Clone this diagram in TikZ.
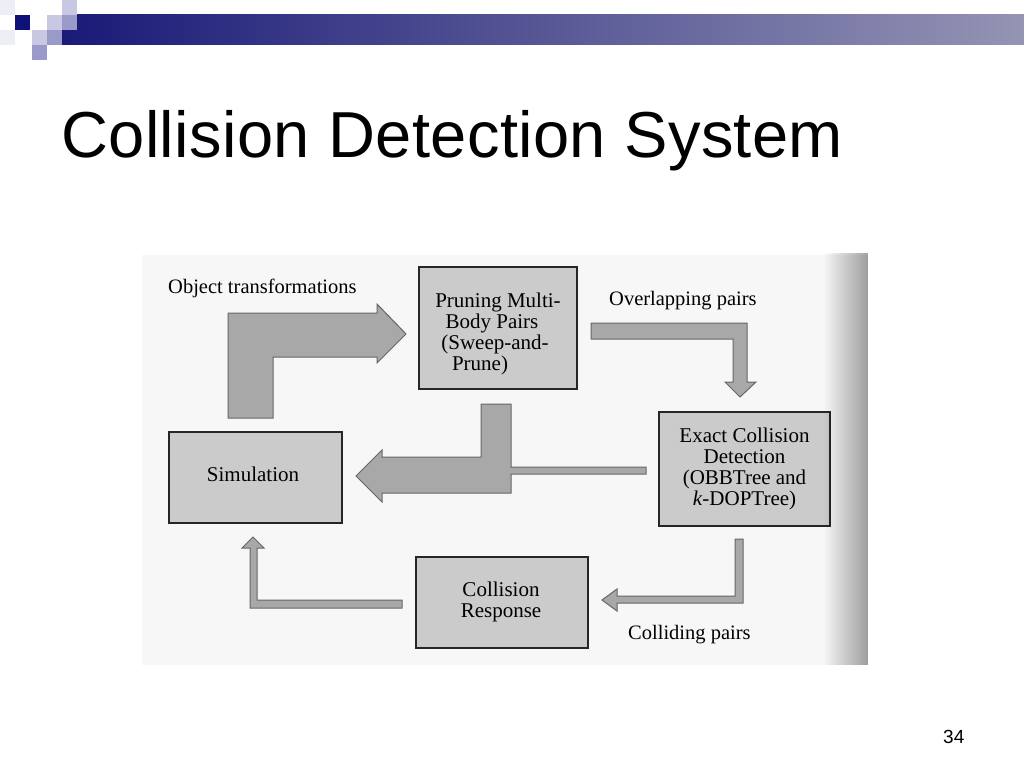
\documentclass[tikz,border=0pt]{standalone}
\usepackage{fontspec}
\setmainfont{Liberation Serif}
\newfontfamily\titlefont{Liberation Sans}
\usetikzlibrary{fadings}
\definecolor{barL}{HTML}{1A1A78}
\definecolor{barR}{HTML}{9494B4}
\definecolor{sqNavy}{HTML}{10107A}
\definecolor{sqLight}{HTML}{C8C8E2}
\definecolor{sqMid}{HTML}{9A9ACA}
\definecolor{sqFaint}{HTML}{EEEEF6}
\definecolor{scanbg}{HTML}{F7F7F7}
\definecolor{boxfill}{HTML}{CBCBCB}
\definecolor{boxedge}{HTML}{262626}
\definecolor{arrowfill}{HTML}{A8A8A8}
\definecolor{arrowedge}{HTML}{666666}
\tikzset{
  procbox/.style={draw=boxedge, fill=boxfill, line width=2.2pt, inner sep=0pt},
  boxtext/.style={align=center, font=\fontsize{21}{20.8}\selectfont, inner sep=0pt},
  blockarrow/.style={fill=arrowfill, draw=arrowedge, line width=1pt, line join=miter},
  lbl/.style={anchor=base west, inner sep=0pt, font=\fontsize{20.5}{22}\selectfont},
}
\begin{document}
\begin{tikzpicture}[x=1pt,y=-1pt]
\useasboundingbox (0,0) rectangle (1024,768);
\fill[white] (0,0) rectangle (1024,768);
% header bar and squares
\shade[left color=barL, right color=barR] (62,15) rectangle (1024,45);
\fill[sqFaint] (0,0) rectangle (15,15);
\fill[sqFaint] (0,30) rectangle (15,45);
\fill[sqLight] (62,0) rectangle (77,15);
\fill[sqNavy] (15,15) rectangle (30,30);
\fill[sqLight] (47,15) rectangle (62,30);
\fill[sqMid] (62,15) rectangle (77,30);
\fill[sqLight] (32,30) rectangle (47,45);
\fill[sqMid] (47,30) rectangle (62,45);
\fill[sqMid] (32,45) rectangle (47,60);
% title
\node[anchor=base west, inner sep=0pt, font=\titlefont\fontsize{65}{78}\selectfont\addfontfeature{LetterSpace=0.6}] (title) at (61,157) {Collision Detection System};
% scanned figure background
\fill[scanbg] (142,255) rectangle (868,665);
% boxes
\node[procbox, minimum width=158pt, minimum height=122pt] (prune) at (498,328) {};
\node[boxtext] (prunetext) at (498,334)
  {Pruning Multi-\\Body Pairs\kern12pt\\(Sweep-and-\kern6pt\\Prune)\kern36pt};
\node[procbox, minimum width=171pt, minimum height=114pt] (exact) at (744.5,469) {};
\node[boxtext] (exacttext) at (744.5,469)
  {Exact Collision\\Detection\\(OBBTree and\\\textit{k}-DOPTree)};
\node[procbox, minimum width=173pt, minimum height=91pt] (sim) at (255.5,477.5) {};
\node[boxtext] (simtext) at (253,474) {Simulation};
\node[procbox, minimum width=172pt, minimum height=91pt] (resp) at (502,602.5) {};
\node[boxtext] (resptext) at (501,602) {Collision\\Response};
% block arrows
\draw[blockarrow] (228,418) -- (228,313) -- (377,313) -- (377,304) -- (406,334) -- (377,363) -- (377,357) -- (273,357) -- (273,418) -- cycle;
\draw[blockarrow] (591,323) -- (747,323) -- (747,382) -- (756,382) -- (740,397) -- (725,382) -- (733,382) -- (733,339) -- (591,339) -- cycle;
\draw[blockarrow] (356,476) -- (382,450) -- (382,457) -- (481,457) -- (481,404) -- (511,404) -- (511,467) -- (646,467) -- (646,474) -- (511,474) -- (511,493) -- (382,493) -- (382,502) -- cycle;
\draw[blockarrow] (735,539) -- (743,539) -- (743,603) -- (617,603) -- (617,611) -- (602,600) -- (617,589) -- (617,596) -- (735,596) -- cycle;
\draw[blockarrow] (402,600) -- (402,608) -- (250,608) -- (250,548) -- (242,548) -- (253,537) -- (264,548) -- (257,548) -- (257,600) -- cycle;
% labels
\node[lbl] (lobj) at (168,293) {Object transformations};
\node[lbl] (lover) at (609,305) {Overlapping pairs};
\node[lbl] (lcoll) at (628,639) {Colliding pairs};
% page shadow on the right of the scan
\fill[black, opacity=0.36, path fading=west] (823,253) rectangle (868,665);
% page number
\node[anchor=base west, inner sep=0pt, font=\titlefont\fontsize{19}{22}\selectfont] (pnum) at (943,743) {34};
\end{tikzpicture}
\end{document}
